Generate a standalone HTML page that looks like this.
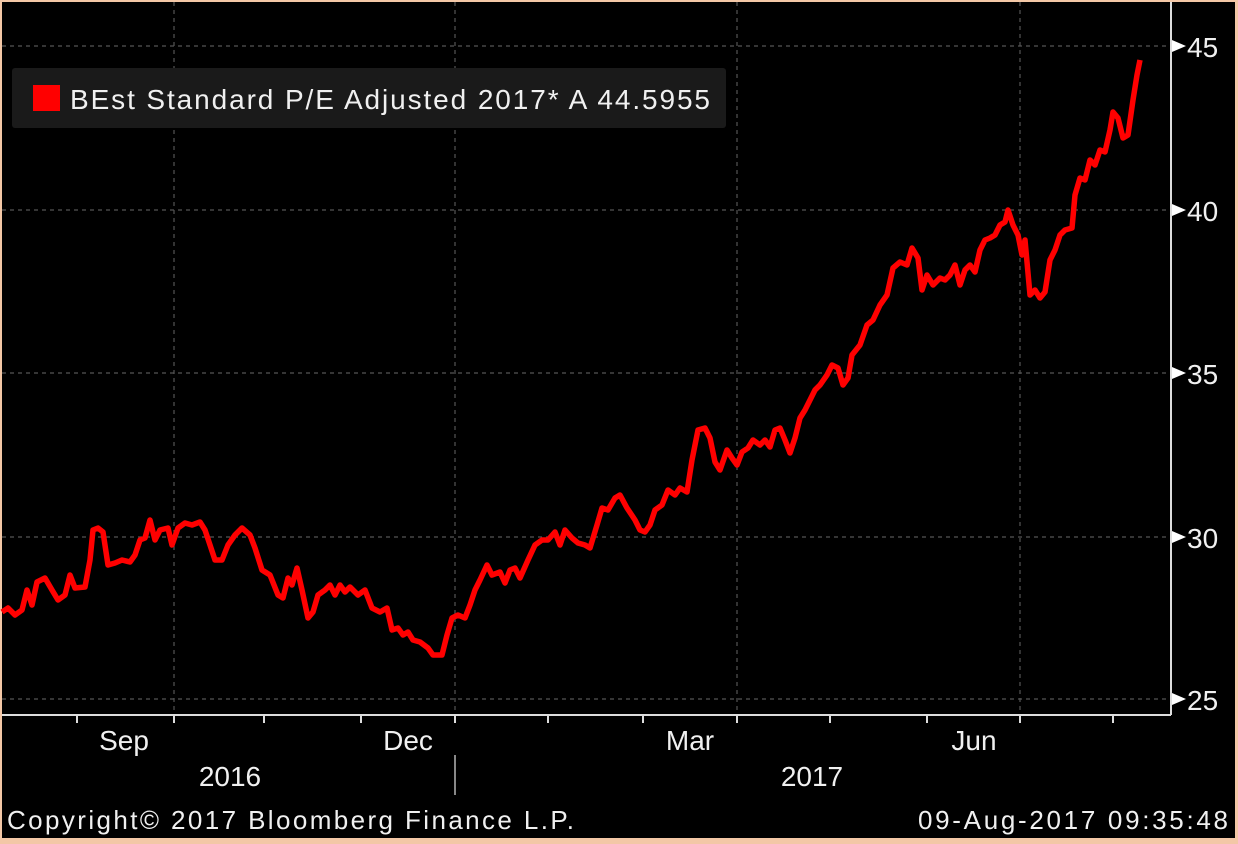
<!DOCTYPE html>
<html><head><style>
html,body{margin:0;padding:0;background:#f3c7a6;}
svg{display:block;}
</style></head><body>
<svg width="1238" height="844" xmlns="http://www.w3.org/2000/svg" font-family="Liberation Sans, sans-serif">
<rect x="0" y="0" width="1238" height="844" fill="#f3c7a6"/>
<rect x="2" y="2" width="1233" height="836" fill="#000"/>
<g stroke="#555" stroke-dasharray="4,4" stroke-width="1.2">
<line x1="2" y1="46" x2="1170" y2="46"/><line x1="2" y1="210" x2="1170" y2="210"/>
<line x1="2" y1="373" x2="1170" y2="373"/><line x1="2" y1="537" x2="1170" y2="537"/>
<line x1="2" y1="699" x2="1170" y2="699"/>
<line x1="174" y1="2" x2="174" y2="715"/><line x1="455" y1="2" x2="455" y2="715"/>
<line x1="737" y1="2" x2="737" y2="715"/><line x1="1020" y1="2" x2="1020" y2="715"/>
</g>
<line x1="2" y1="715" x2="1171" y2="715" stroke="#ddd" stroke-width="2"/>
<line x1="1171" y1="2" x2="1171" y2="715" stroke="#ddd" stroke-width="2"/>
<g stroke="#ddd" stroke-width="2">
<line x1="77" y1="715" x2="77" y2="723"/><line x1="174" y1="715" x2="174" y2="723"/><line x1="264" y1="715" x2="264" y2="723"/><line x1="361" y1="715" x2="361" y2="723"/><line x1="455" y1="715" x2="455" y2="723"/><line x1="548" y1="715" x2="548" y2="723"/><line x1="643" y1="715" x2="643" y2="723"/><line x1="737" y1="715" x2="737" y2="723"/><line x1="830" y1="715" x2="830" y2="723"/><line x1="927" y1="715" x2="927" y2="723"/><line x1="1020" y1="715" x2="1020" y2="723"/><line x1="1113" y1="715" x2="1113" y2="723"/>
</g>
<line x1="455" y1="755" x2="455" y2="795" stroke="#888" stroke-width="2"/>
<g fill="#fff">
<polygon points="1172,40 1186,46 1172,52"/><polygon points="1172,204 1186,210 1172,216"/><polygon points="1172,367 1186,373 1172,379"/><polygon points="1172,531 1186,537 1172,543"/><polygon points="1172,693 1186,699 1172,705"/>
</g>
<g fill="#f0f0f0" font-size="28">
<text x="1187" y="57">45</text><text x="1187" y="221">40</text><text x="1187" y="384">35</text><text x="1187" y="548">30</text><text x="1187" y="710">25</text>
<text x="124" y="750" text-anchor="middle">Sep</text><text x="408" y="750" text-anchor="middle">Dec</text>
<text x="690" y="750" text-anchor="middle">Mar</text><text x="974" y="750" text-anchor="middle">Jun</text>
<text x="230" y="786" text-anchor="middle">2016</text><text x="812" y="786" text-anchor="middle">2017</text>
<text x="7" y="829" font-size="26" textLength="567">Copyright© 2017 Bloomberg Finance L.P.</text>
<text x="918" y="829" font-size="26" textLength="310">09-Aug-2017 09:35:48</text>
</g>
<polyline fill="none" stroke="#ff0000" stroke-width="5.5" stroke-linejoin="round" points="2,612 8,608 15,615 22,610 27,590 32,605 37,582 45,578 52,590 58,600 65,595 70,575 75,588 85,587 90,560 93,530 98,528 103,532 108,565 115,563 122,560 130,562 135,555 140,540 145,538 150,520 155,540 160,530 168,528 172,545 178,528 185,523 192,525 200,522 205,530 210,545 215,560 222,560 228,545 235,535 242,528 250,535 255,548 262,570 270,575 278,595 283,598 288,578 292,585 297,568 302,590 308,618 313,612 318,595 325,590 330,585 335,595 340,585 345,592 350,587 358,595 365,590 372,608 380,612 387,608 392,630 398,628 403,635 408,632 413,640 420,642 428,648 433,655 442,655 447,635 452,618 458,615 465,618 470,605 475,590 480,580 487,565 492,575 500,572 505,583 510,570 515,568 520,578 528,560 535,545 542,540 548,540 555,532 560,545 565,530 572,538 578,543 585,545 590,548 597,525 602,508 608,510 615,498 620,495 627,508 635,520 640,530 645,532 650,525 655,510 662,505 668,490 675,495 680,488 687,492 692,460 698,430 705,428 710,438 715,462 720,470 727,450 732,458 737,465 742,452 748,448 753,440 760,445 765,440 770,447 775,430 780,428 785,440 790,453 795,438 800,418 805,410 810,400 815,390 820,385 827,375 832,365 838,368 843,385 848,378 852,355 860,345 867,325 873,320 880,305 887,295 893,268 900,262 907,265 912,248 918,258 922,290 927,275 933,285 940,278 945,280 950,275 955,265 960,285 965,270 970,265 975,272 980,250 985,240 990,238 995,235 1000,225 1005,222 1008,210 1013,225 1018,235 1022,255 1025,240 1030,295 1035,290 1040,298 1045,292 1050,260 1055,250 1060,235 1065,230 1072,228 1075,195 1080,178 1085,180 1090,160 1095,165 1100,150 1105,152 1110,130 1113,112 1118,118 1123,138 1128,135 1133,100 1137,75 1140,60"/>
<rect x="12" y="68" width="714" height="60" rx="3" fill="#1a1a1a"/>
<rect x="33" y="85" width="27" height="26" fill="#ff0000"/>
<text x="70" y="109" fill="#f0f0f0" font-size="28" textLength="640">BEst Standard P/E Adjusted 2017* A 44.5955</text>
</svg>
</body></html>
